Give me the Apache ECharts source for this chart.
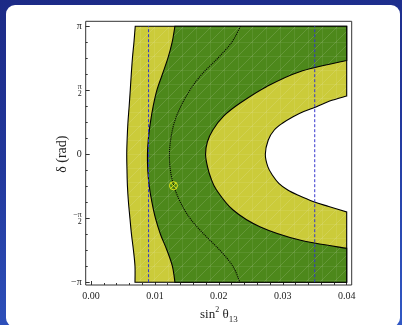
<!DOCTYPE html>
<html>
<head>
<meta charset="utf-8">
<script src="https://cdn.jsdelivr.net/npm/echarts@6/dist/echarts.min.js"></script>
<style>
  html, body { margin: 0; padding: 0; width: 402px; height: 325px; overflow: hidden; }
  body { position: relative; background: linear-gradient(172deg, #1c2a86 0%, #22389c 45%, #3158c4 100%); }
  #panel { position: absolute; left: 6px; top: 5px; width: 394px; height: 322px; background: #fff; border-radius: 9px; }
  #chart { position: absolute; left: 0; top: 0; width: 402px; height: 325px; }
</style>
</head>
<body>
<div id="panel"></div>
<div id="chart"></div>
<script>
// Sampling of the CP phase (rad), from +pi down to -pi
const deltaGrid = [3.1416, 2.7489, 2.3562, 1.9635, 1.5708, 1.1781, 0.7854, 0.3927, 0,
  -0.3927, -0.7854, -1.1781, -1.5708, -1.9635, -2.3562, -2.7489, -3.1416];

// Left edge of the outer (yellow) allowed band, sin^2(theta13) at each delta
const band2LeftX = [0.00692, 0.00672, 0.00648, 0.00630, 0.00614, 0.00597, 0.00578, 0.00566, 0.00559,
  0.00563, 0.00570, 0.00586, 0.00609, 0.00633, 0.00664, 0.00688, 0.00688];

// Left edge of the inner (green) allowed band
const band1LeftX = [0.01313, 0.01270, 0.01203, 0.01117, 0.01031, 0.00973, 0.00930, 0.00898, 0.00883,
  0.00888, 0.00911, 0.00953, 0.01008, 0.01086, 0.01188, 0.01273, 0.01313];

// Best-fit curve (dotted)
const bestFitX = [0.02339, 0.02203, 0.01984, 0.01734, 0.01547, 0.01406, 0.01305, 0.01250, 0.01227,
  0.01242, 0.01297, 0.01398, 0.01547, 0.01766, 0.02016, 0.02219, 0.02328];

// Right edge of the inner band (green / yellow), until it leaves the plotted range
const band1RightDelta = [2.300, 2.025, 1.657, 1.249, 0.938, 0.594, 0.299, 0, -0.290, -0.584, -0.878, -1.370, -1.779, -2.106, -2.310];
const band1RightX = [0.04, 0.03266, 0.02745, 0.02328, 0.02078, 0.01906, 0.01820, 0.01792, 0.01820, 0.01875, 0.01964, 0.02223, 0.02641, 0.03266, 0.04];

// Right edge of the outer band (yellow / excluded region)
const band2RightDelta = [1.4285, 1.3057, 1.1658, 1.0480, 0.9204, 0.7658, 0.5940, 0.3485, 0,
  -0.3068, -0.5105, -0.7142, -0.8787, -1.0014, -1.1658, -1.2836, -1.4186];
const band2RightX = [0.04, 0.03734, 0.03527, 0.03328, 0.03161, 0.03000, 0.02867, 0.02773, 0.02727,
  0.02766, 0.02836, 0.02938, 0.03078, 0.03234, 0.03484, 0.03719, 0.04];

// Reference values of sin^2(theta13) (dashed) and the best-fit point
const referenceX = [0.009, 0.035];
const bestFitPoint = [0.0129, -0.773];

// Axis ranges
const xMin = 0, xMax = 0.04, xStep = 0.01;
const yMin = -Math.PI, yMax = Math.PI, yStep = Math.PI / 2;
const yTickText = ['−π', '−π/2', '0', 'π/2', 'π'];

const FONT = 'Liberation Serif';
const GREEN = '#4d881b';
const YELLOW = '#cbcb3a';

function pairs(xs, ds) { return xs.map((x, i) => [x, ds[i]]); }

const outerLeft = pairs(band2LeftX, deltaGrid);
const innerLeft = pairs(band1LeftX, deltaGrid);
const innerRight = pairs(band1RightX, band1RightDelta);
const outerRight = pairs(band2RightX, band2RightDelta);
const bestFit = pairs(bestFitX, deltaGrid);

// Light mesh texture laid over the filled regions
function meshFill(base) {
  const s = 14;
  const c = document.createElement('canvas');
  c.width = s; c.height = s;
  const g = c.getContext('2d');
  g.fillStyle = base; g.fillRect(0, 0, s, s);
  g.strokeStyle = 'rgba(255,255,255,0.13)'; g.lineWidth = 1;
  g.beginPath(); g.moveTo(0, s); g.lineTo(s, 0); g.stroke();
  g.strokeStyle = 'rgba(255,255,255,0.08)';
  g.beginPath(); g.moveTo(0.5, 0); g.lineTo(0.5, s); g.moveTo(0, 0.5); g.lineTo(s, 0.5); g.stroke();
  return { image: c, repeat: 'repeat' };
}

// Smooth curve through pixel points (Catmull-Rom as cubic Bezier segments)
function curveCmds(px, moveFirst) {
  let d = (moveFirst ? 'M' : 'L') + px[0][0] + ' ' + px[0][1];
  for (let i = 0; i < px.length - 1; i++) {
    const p0 = px[i - 1] || px[i], p1 = px[i], p2 = px[i + 1], p3 = px[i + 2] || px[i + 1];
    const c1 = [p1[0] + (p2[0] - p0[0]) / 6, p1[1] + (p2[1] - p0[1]) / 6];
    const c2 = [p2[0] - (p3[0] - p1[0]) / 6, p2[1] - (p3[1] - p1[1]) / 6];
    d += 'C' + c1[0] + ' ' + c1[1] + ' ' + c2[0] + ' ' + c2[1] + ' ' + p2[0] + ' ' + p2[1];
  }
  return d;
}

// Band between a left curve and a right curve, clipped at the plot's right edge
function bandSeries(name, left, right, color, z) {
  const fill = meshFill(color);
  return {
    type: 'custom', name: name, z: z, silent: true,
    xAxisIndex: 0, yAxisIndex: 0,
    data: [[0.02, 0]],
    renderItem: function (params, api) {
      const L = left.map(p => api.coord(p));
      const R = right.slice().reverse().map(p => api.coord(p));
      const bl = api.coord([xMax, yMin]);
      const tr = api.coord([xMax, yMax]);
      let d = curveCmds(L, true);
      d += 'L' + bl[0] + ' ' + bl[1];
      d += curveCmds(R, false);
      d += 'L' + tr[0] + ' ' + tr[1] + 'Z';
      return {
        type: 'path',
        shape: { pathData: d },
        style: { fill: fill, stroke: '#000', lineWidth: 1.1 }
      };
    }
  };
}

function yLabel(v) {
  const k = Math.round(v / yStep) + 2;
  const t = yTickText[k];
  if (t === 'π/2') return '{n|π}\n{d|2}';
  if (t === '−π/2') return '{n|−π}\n{d|2}';
  return '{t|' + t + '}';
}

const chart = echarts.init(document.getElementById('chart'), null, { renderer: 'canvas' });

chart.setOption({
  animation: false,
  backgroundColor: 'transparent',
  grid: [
    { left: 91, right: 55.3, top: 26.2, bottom: 42.8, containLabel: false, outerBoundsMode: 'none' },
    { left: 85.7, right: 50.3, top: 21.3, bottom: 40, containLabel: false, outerBoundsMode: 'none',
      show: true, borderColor: '#333', borderWidth: 1, backgroundColor: 'transparent' }
  ],
  xAxis: [
    {
      gridIndex: 0, type: 'value', min: xMin, max: xMax, interval: xStep, offset: 2.8,
      axisLine: { show: false, onZero: false },
      axisTick: { show: true, inside: true, length: 4, lineStyle: { color: '#333', width: 1 } },
      minorTick: { show: true, splitNumber: 5, length: 2, lineStyle: { color: '#333', width: 1 } },
      splitLine: { show: false },
      axisLabel: { formatter: v => v.toFixed(2), fontFamily: FONT, fontSize: 10, color: '#222', margin: 6 },
      name: '{a|sin}{s|2}{a| θ}{b|13}',
      nameLocation: 'middle', nameGap: 21, nameMoveOverlap: false,
      nameTextStyle: {
        fontFamily: FONT, color: '#222',
        rich: {
          a: { fontFamily: FONT, fontSize: 13, color: '#222', lineHeight: 18, verticalAlign: 'middle' },
          s: { fontFamily: FONT, fontSize: 8, color: '#222', lineHeight: 18, verticalAlign: 'top' },
          b: { fontFamily: FONT, fontSize: 9, color: '#222', lineHeight: 18, verticalAlign: 'bottom' }
        }
      }
    },
    { gridIndex: 1, type: 'value', min: 0, max: 1, show: false }
  ],
  yAxis: [
    {
      gridIndex: 0, type: 'value', min: yMin, max: yMax, interval: yStep, offset: 5.3,
      axisLine: { show: false, onZero: false },
      axisTick: { show: true, inside: true, length: 4, lineStyle: { color: '#333', width: 1 } },
      minorTick: { show: true, splitNumber: 4, length: 2, lineStyle: { color: '#333', width: 1 } },
      splitLine: { show: false },
      axisLabel: {
        formatter: yLabel, margin: 4, color: '#222',
        rich: {
          t: { fontFamily: FONT, fontSize: 10, color: '#222' },
          n: { fontFamily: FONT, fontSize: 8, color: '#222', lineHeight: 7, align: 'right' },
          d: { fontFamily: FONT, fontSize: 8, color: '#222', lineHeight: 7, align: 'right' }
        }
      },
      name: 'δ (rad)', nameLocation: 'middle', nameGap: 16, nameRotate: 90, nameMoveOverlap: false,
      nameTextStyle: { fontFamily: FONT, fontSize: 14, color: '#222' }
    },
    { gridIndex: 1, type: 'value', min: 0, max: 1, show: false }
  ],
  series: [
    bandSeries('outer band', outerLeft, outerRight, YELLOW, 1),
    bandSeries('inner band', innerLeft, innerRight, GREEN, 2),
    {
      type: 'custom', name: 'best fit', z: 3, silent: true,
      data: [[0.02, 0]],
      renderItem: function (params, api) {
        return {
          type: 'path',
          shape: { pathData: curveCmds(bestFit.map(p => api.coord(p)), true) },
          style: { fill: null, stroke: '#000', lineWidth: 1.1, lineDash: [1.1, 1] }
        };
      }
    },
    ...referenceX.map(x => ({
      type: 'line', z: 4, silent: true, showSymbol: false,
      data: [[x, yMin], [x, yMax]],
      lineStyle: { color: '#3535cc', width: 1, type: [3, 2] }
    })),
    {
      type: 'custom', name: 'best-fit point', z: 5, silent: true,
      data: [bestFitPoint],
      renderItem: function (params, api) {
        const c = api.coord([api.value(0), api.value(1)]);
        const r = 4, d = r * 0.7071;
        const st = { stroke: '#e4e81c', lineWidth: 1, fill: null };
        return {
          type: 'group',
          children: [
            { type: 'circle', shape: { cx: c[0], cy: c[1], r: r }, style: st },
            { type: 'line', shape: { x1: c[0] - d, y1: c[1] - d, x2: c[0] + d, y2: c[1] + d }, style: st },
            { type: 'line', shape: { x1: c[0] - d, y1: c[1] + d, x2: c[0] + d, y2: c[1] - d }, style: st }
          ]
        };
      }
    }
  ]
});
</script>
</body>
</html>
